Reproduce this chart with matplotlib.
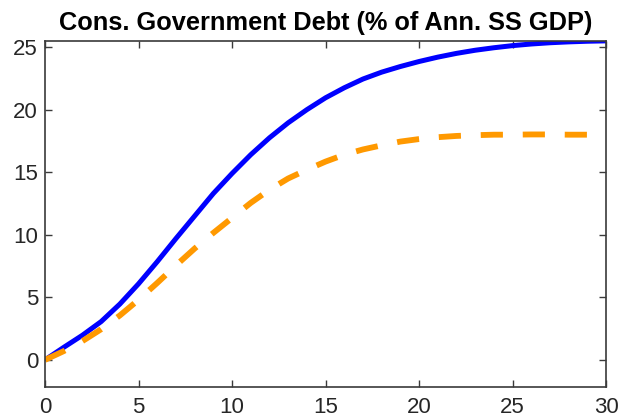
import numpy as np
import matplotlib
matplotlib.use("Agg")
import matplotlib.pyplot as plt

plt.rcParams['font.family'] = ['Liberation Sans', 'DejaVu Sans']

# Quarters after the shock
quarters = list(range(31))

# Debt path, baseline (solid blue)
debt_blue = [0.0, 1.0, 1.97, 3.06, 4.46, 6.08, 7.85, 9.7, 11.5, 13.3, 14.9,
             16.4, 17.75, 18.95, 20.0, 20.95, 21.75, 22.45, 23.0, 23.45, 23.85,
             24.2, 24.5, 24.75, 24.95, 25.12, 25.25, 25.35, 25.42, 25.47, 25.5]

# Debt path, alternative (dashed orange)
debt_orange = [0.0, 0.7, 1.5, 2.45, 3.55, 4.8, 6.15, 7.55, 8.9, 10.15, 11.35,
               12.55, 13.6, 14.5, 15.2, 15.85, 16.4, 16.82, 17.15, 17.45, 17.65,
               17.8, 17.9, 17.96, 18.0, 18.0, 18.02, 18.02, 18.0, 18.0, 17.98]

title_text = "Cons. Government Debt (% of Ann. SS GDP)"
xticks = [0, 5, 10, 15, 20, 25, 30]
yticks = [0, 5, 10, 15, 20, 25]

fig = plt.figure(figsize=(6.21, 4.17), dpi=100)
ax = fig.add_axes([0.0725, 0.071, 0.9035, 0.831])

ax.plot(quarters, debt_blue, color='#0000FF', lw=3.6, solid_capstyle='butt',
        solid_joinstyle='round')
ax.plot(quarters, debt_orange, color='#FF9900', lw=4.2, dashes=[3.8, 3.4])

ax.set_xlim(0, 30)
ax.set_ylim(-2.2, 25.5)
ax.set_xticks(xticks)
ax.set_yticks(yticks)

axis_col = '#3a3a3a'
for sp in ax.spines.values():
    sp.set_color(axis_col)
    sp.set_linewidth(1.2)
ax.tick_params(direction='in', length=5, width=1, colors=axis_col,
               top=True, right=True, labelsize=16, labelcolor='#262626')
ax.tick_params(axis='x', pad=7)
ax.tick_params(axis='y', pad=5)

ax.set_title(title_text, fontsize=18.3, fontweight='bold', color='black', pad=8)

fig.savefig('out.png', dpi=100)
